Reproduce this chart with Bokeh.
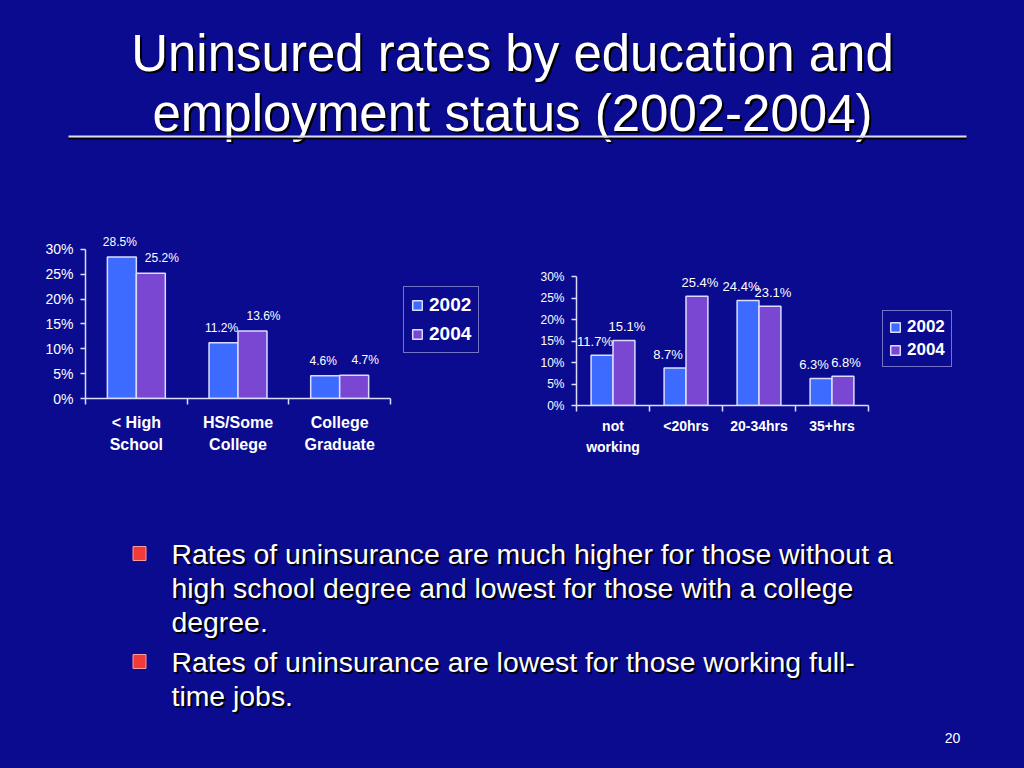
from bokeh.plotting import figure
from bokeh.layouts import column, row
from bokeh.models import (FixedTicker, PrintfTickFormatter, Legend, LegendItem,
                          ColumnDataSource)
from bokeh.core.properties import value
from bokeh.embed import file_html
from bokeh.resources import INLINE

# ---------------- data ----------------
years = ["2002", "2004"]
edu_categories = ["< High\nSchool", "HS/Some\nCollege", "College\nGraduate"]
edu_2002 = [28.5, 11.2, 4.6]
edu_2004 = [25.2, 13.6, 4.7]
emp_categories = ["not\nworking", "<20hrs", "20-34hrs", "35+hrs"]
emp_2002 = [11.7, 8.7, 24.4, 6.3]
emp_2004 = [15.1, 25.4, 23.1, 6.8]
y_ticks = [0, 5, 10, 15, 20, 25, 30]

title_lines = ["Uninsured rates by education and", "employment status (2002-2004)"]
bullets = [
    ["Rates of uninsurance are much higher for those without a",
     "high school degree and lowest for those with a college",
     "degree."],
    ["Rates of uninsurance are lowest for those working full-",
     "time jobs."],
]
page_number = "20"

# ---------------- style ----------------
BG = "#0b0b8f"
C2002 = "#3d6bff"
C2004 = "#7a47d2"
EDGE = "#dcdcff"
ARIAL_S = "Liberation Sans"
ARIAL = value(ARIAL_S)


def base(fig):
    fig.background_fill_color = BG
    fig.border_fill_color = BG
    fig.outline_line_color = None
    fig.grid.visible = False
    fig.styles = {"background-color": BG}
    fig.frame_align = False
    return fig


def bar_chart(cats, v02, v04, width, height, mb, x_end, y_end, bw,
              tick_fs, cat_fs, cat_standoff, lab_fs, lab_dx, lab_dy, leg_loc, leg_fs,
              leg_spacing, leg_padding):
    n = len(cats)
    p = figure(width=width, height=height, x_range=(0, x_end), y_range=(0, y_end),
               toolbar_location=None, output_backend="svg",
               min_border_left=mb[0], min_border_right=mb[1],
               min_border_top=mb[2], min_border_bottom=mb[3])
    base(p)
    centers = [i + 0.5 for i in range(n)]
    s02 = ColumnDataSource(dict(x=[c - bw / 2 for c in centers], top=v02,
                                lab=[f"{v:.1f}%" for v in v02]))
    s04 = ColumnDataSource(dict(x=[c + bw / 2 for c in centers], top=v04,
                                lab=[f"{v:.1f}%" for v in v04]))
    r02 = p.vbar(x="x", top="top", width=bw, source=s02, fill_color=C2002,
                 line_color=EDGE, line_width=1.5)
    r04 = p.vbar(x="x", top="top", width=bw, source=s04, fill_color=C2004,
                 line_color=EDGE, line_width=1.5)
    for src, dx in ((s02, lab_dx[0]), (s04, lab_dx[1])):
        p.text(x="x", y="top", text="lab", source=src, x_offset=dx, y_offset=-lab_dy,
               text_align="center", text_baseline="middle", text_color="white",
               text_font=ARIAL, text_font_size=lab_fs)

    # x axis: minor ticks at category boundaries, labels at centres
    xa = p.xaxis[0]
    xa.ticker = FixedTicker(ticks=centers, minor_ticks=list(range(n + 1)))
    xa.major_label_overrides = {c: cats[i] for i, c in enumerate(centers)}
    xa.bounds = (0, n)
    xa.major_tick_line_color = None
    xa.major_tick_out = 0
    xa.major_tick_in = 0
    xa.minor_tick_out = 6
    xa.minor_tick_in = 0
    xa.minor_tick_line_color = EDGE
    xa.minor_tick_line_width = 1.5
    xa.axis_line_color = EDGE
    xa.axis_line_width = 1.5
    xa.major_label_text_color = "white"
    xa.major_label_text_font = ARIAL_S
    xa.major_label_text_font_style = "bold"
    xa.major_label_text_font_size = cat_fs
    xa.major_label_text_line_height = 1.35
    xa.major_label_standoff = cat_standoff

    ya = p.yaxis[0]
    ya.ticker = FixedTicker(ticks=y_ticks, minor_ticks=[])
    ya.formatter = PrintfTickFormatter(format="%d%%")
    ya.bounds = (0, y_ticks[-1])
    ya.axis_line_color = EDGE
    ya.axis_line_width = 1.5
    ya.major_tick_line_color = EDGE
    ya.major_tick_line_width = 1.5
    ya.major_tick_out = 5
    ya.major_tick_in = 0
    ya.minor_tick_line_color = None
    ya.major_label_text_color = "white"
    ya.major_label_text_font = ARIAL_S
    ya.major_label_text_font_size = tick_fs
    ya.major_label_standoff = 7

    leg = Legend(items=[LegendItem(label=years[0], renderers=[r02]),
                        LegendItem(label=years[1], renderers=[r04])],
                 location=leg_loc, orientation="vertical")
    leg.label_text_color = "white"
    leg.label_text_font = ARIAL_S
    leg.label_text_font_style = "bold"
    leg.label_text_font_size = leg_fs
    leg.glyph_width = 12
    leg.glyph_height = 12
    leg.label_standoff = 6
    leg.spacing = leg_spacing
    leg.padding = leg_padding
    leg.margin = 0
    leg.border_line_color = EDGE
    leg.border_line_width = 1.5
    leg.background_fill_color = BG
    leg.background_fill_alpha = 1
    p.add_layout(leg)
    return p


# ---------------- title ----------------
tp = figure(width=1024, height=200, x_range=(0, 1024), y_range=(200, 0),
            toolbar_location=None, output_backend="svg", min_border=0)
base(tp)
tp.axis.visible = False
for dx, col in ((2, "black"), (0, "white")):
    tp.text(x=[512 + dx, 512 + dx], y=[53 + dx, 113 + dx], text=title_lines,
            text_align="center", text_baseline="middle", text_color=col,
            text_font=ARIAL, text_font_size="51px")
tp.segment(x0=[68], y0=[138], x1=[966], y1=[138], line_color="black", line_width=2)
tp.segment(x0=[68], y0=[136], x1=[966], y1=[136], line_color="#dcdcff", line_width=2)

# ---------------- charts ----------------
left = bar_chart(edu_categories, edu_2002, edu_2004, width=500, height=270,
                 mb=(85, 5, 15, 72), x_end=(495 - 85) / 101.67,
                 y_end=183 / 4.967, bw=0.285, tick_fs="14px", cat_fs="16px",
                 cat_standoff=9, lab_fs="12px", lab_dx=(-2, 11), lab_dy=15,
                 leg_loc=(318, 45), leg_fs="19px", leg_spacing=7, leg_padding=7)
right = bar_chart(emp_categories, emp_2002, emp_2004, width=524, height=270,
                  mb=(76, 14, 15, 65), x_end=(1010 - 576) / 73.0,
                  y_end=190 / 4.3, bw=0.30, tick_fs="12px", cat_fs="14px",
                  cat_standoff=6, lab_fs="13px", lab_dx=(-7, 3), lab_dy=14,
                  leg_loc=(306, 38), leg_fs="17px", leg_spacing=3, leg_padding=6)

# ---------------- bullets ----------------
bp = figure(width=1024, height=298, x_range=(0, 1024), y_range=(768, 470),
            toolbar_location=None, output_backend="svg", min_border=0)
base(bp)
bp.axis.visible = False
line_mid = [[553, 587, 621], [661, 695]]
for bi, lines in enumerate(bullets):
    ys = line_mid[bi]
    bp.rect(x=[139], y=[ys[0]], width=[13], height=[14], fill_color="#f23a3a",
            line_color="#ff9a9a", line_width=1)
    for dx, col in ((2, "black"), (0, "white")):
        bp.text(x=[171 + dx] * len(lines), y=[y + dx for y in ys[:len(lines)]], text=lines,
                text_align="left", text_baseline="middle", text_color=col,
                text_font=ARIAL, text_font_size="28.4px")
bp.text(x=[952], y=[737], text=[page_number], text_align="center",
        text_baseline="middle", text_color="white", text_font=ARIAL,
        text_font_size="14px")

charts = row(left, right, spacing=0, styles={"background-color": BG})
layout = column(tp, charts, bp, spacing=0, styles={"background-color": BG})
open("out.html", "w").write(file_html(layout, INLINE))
